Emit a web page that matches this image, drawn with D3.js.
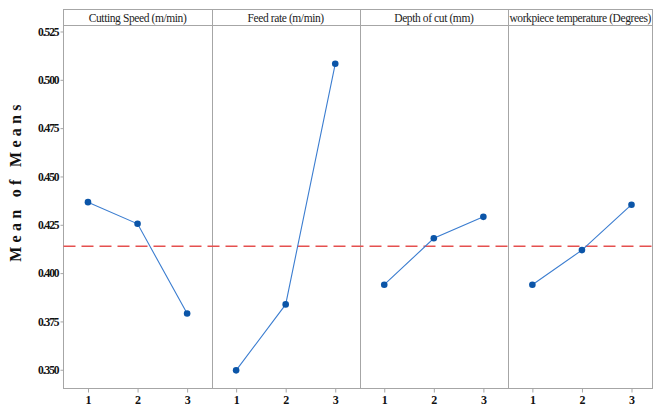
<!doctype html>
<html lang="en">
<head>
    <title>Main effects plot for means</title>
    <script src="https://d3js.org/d3.v7.min.js"></script>
    <style>
        body { margin: 0; background: #fff; }
        svg { display: block; }
    </style>
</head>
<body>
    <script>
       // chart data
       const factors = ['Cutting Speed (m/min)', 'Feed rate (m/min)', 'Depth of cut (mm)', 'workpiece temperature (Degrees)'];
       const levels = ['1', '2', '3'];
       const cuttingSpeed = [0.4367, 0.4255, 0.3791];
       const feedRate = [0.3497, 0.3838, 0.5083];
       const depthOfCut = [0.3940, 0.4180, 0.4291];
       const workTemp = [0.3940, 0.4119, 0.4354];
       const yTicks = [0.350, 0.375, 0.400, 0.425, 0.450, 0.475, 0.500, 0.525];
       const grandMean = 0.4139;

       const series = [cuttingSpeed, feedRate, depthOfCut, workTemp];

       let width = 653, height = 412;
       // the last panel runs a little past the picture edge, as in the original
       let plotLeft = 63.5, panelsRight = 656, frameRight = 652.5;
       let plotTop = 9.5, headerBottom = 25.5, plotBottom = 388.5;

       let svg = d3.select('body').append('svg')
                   .attr('width', width).attr('height', height);

       let y = d3.scaleLinear().domain([0.3403, 0.5281]).range([plotBottom, headerBottom]);

       let panel = d3.scaleBand().domain(factors).range([plotLeft, panelsRight]);

       // frame
       svg.append('rect')
          .attr('x', plotLeft).attr('y', plotTop)
          .attr('width', frameRight - plotLeft).attr('height', plotBottom - plotTop)
          .attr('fill', 'none').attr('stroke', '#a6a6a6').attr('stroke-width', 1);

       svg.append('line')
          .attr('x1', plotLeft).attr('x2', frameRight)
          .attr('y1', headerBottom).attr('y2', headerBottom)
          .attr('stroke', '#a6a6a6');

       // panel separators
       svg.selectAll('.sep').data(factors.slice(1)).enter().append('line')
          .attr('x1', d => Math.round(panel(d)) + 0.5).attr('x2', d => Math.round(panel(d)) + 0.5)
          .attr('y1', plotTop).attr('y2', plotBottom)
          .attr('stroke', '#a6a6a6');

       // panel titles
       svg.selectAll('.title').data(factors).enter().append('text')
          .attr('x', (d, i) => i === 3 ? panel(d) + (frameRight - panel(d)) / 2 : panel(d) + panel.bandwidth() / 2)
          .attr('y', 22)
          .attr('text-anchor', 'middle')
          .style('font-family', '"Liberation Serif", serif')
          .style('font-size', '11.5px')
          .style('letter-spacing', '-0.4px')
          .attr('fill', '#222')
          .text(d => d);

       // y axis
       let yAxis = svg.append('g')
          .attr('transform', `translate(${plotLeft},0)`)
          .call(d3.axisLeft(y).tickValues(yTicks).tickFormat(d3.format('.3f')).tickSize(3).tickPadding(2));
       yAxis.select('.domain').remove();
       yAxis.selectAll('line').attr('stroke', '#a6a6a6');
       yAxis.selectAll('text')
            .style('font-family', '"Liberation Serif", serif')
            .style('font-weight', 'bold')
            .style('font-size', '11.5px')
            .style('letter-spacing', '-1.1px')
            .attr('fill', '#111');

       // y label
       svg.append('text')
          .attr('transform', 'translate(21,181) rotate(-90)')
          .attr('text-anchor', 'middle')
          .style('font-family', '"Liberation Serif", serif')
          .style('font-weight', 'bold')
          .style('font-size', '16px')
          .style('letter-spacing', '4.3px')
          .attr('fill', '#111')
          .text('Mean of Means');

       // grand mean line
       svg.append('line')
          .attr('x1', plotLeft).attr('x2', width)
          .attr('y1', y(grandMean)).attr('y2', y(grandMean))
          .attr('stroke', '#e5504f').attr('stroke-width', 1.3)
          .attr('stroke-dasharray', '12,6');

       // panels
       factors.forEach(function (f, i) {
           let x = d3.scalePoint().domain(levels)
                     .range([panel(f) + 24.5, panel(f) + panel.bandwidth() - 24.5]);

           let xAxis = svg.append('g')
              .attr('transform', `translate(0,${plotBottom})`)
              .call(d3.axisBottom(x).tickSize(4).tickPadding(3));
           xAxis.select('.domain').remove();
           xAxis.selectAll('line').attr('stroke', '#a6a6a6');
           xAxis.selectAll('text')
                .style('font-family', '"Liberation Serif", serif')
                .style('font-weight', 'bold')
                .style('font-size', '12px')
                .attr('fill', '#111');

           let pts = levels.map((l, j) => ({ x: x(l), y: y(series[i][j]) }));

           svg.append('path')
              .datum(pts)
              .attr('d', d3.line().x(d => d.x).y(d => d.y))
              .attr('fill', 'none')
              .attr('stroke', '#3b7dd0')
              .attr('stroke-width', 1.1);

           svg.selectAll('.pt' + i).data(pts).enter().append('circle')
              .attr('cx', d => d.x).attr('cy', d => d.y)
              .attr('r', 3.3)
              .attr('fill', '#0b55a8');
       });
    </script>
</body>
</html>
